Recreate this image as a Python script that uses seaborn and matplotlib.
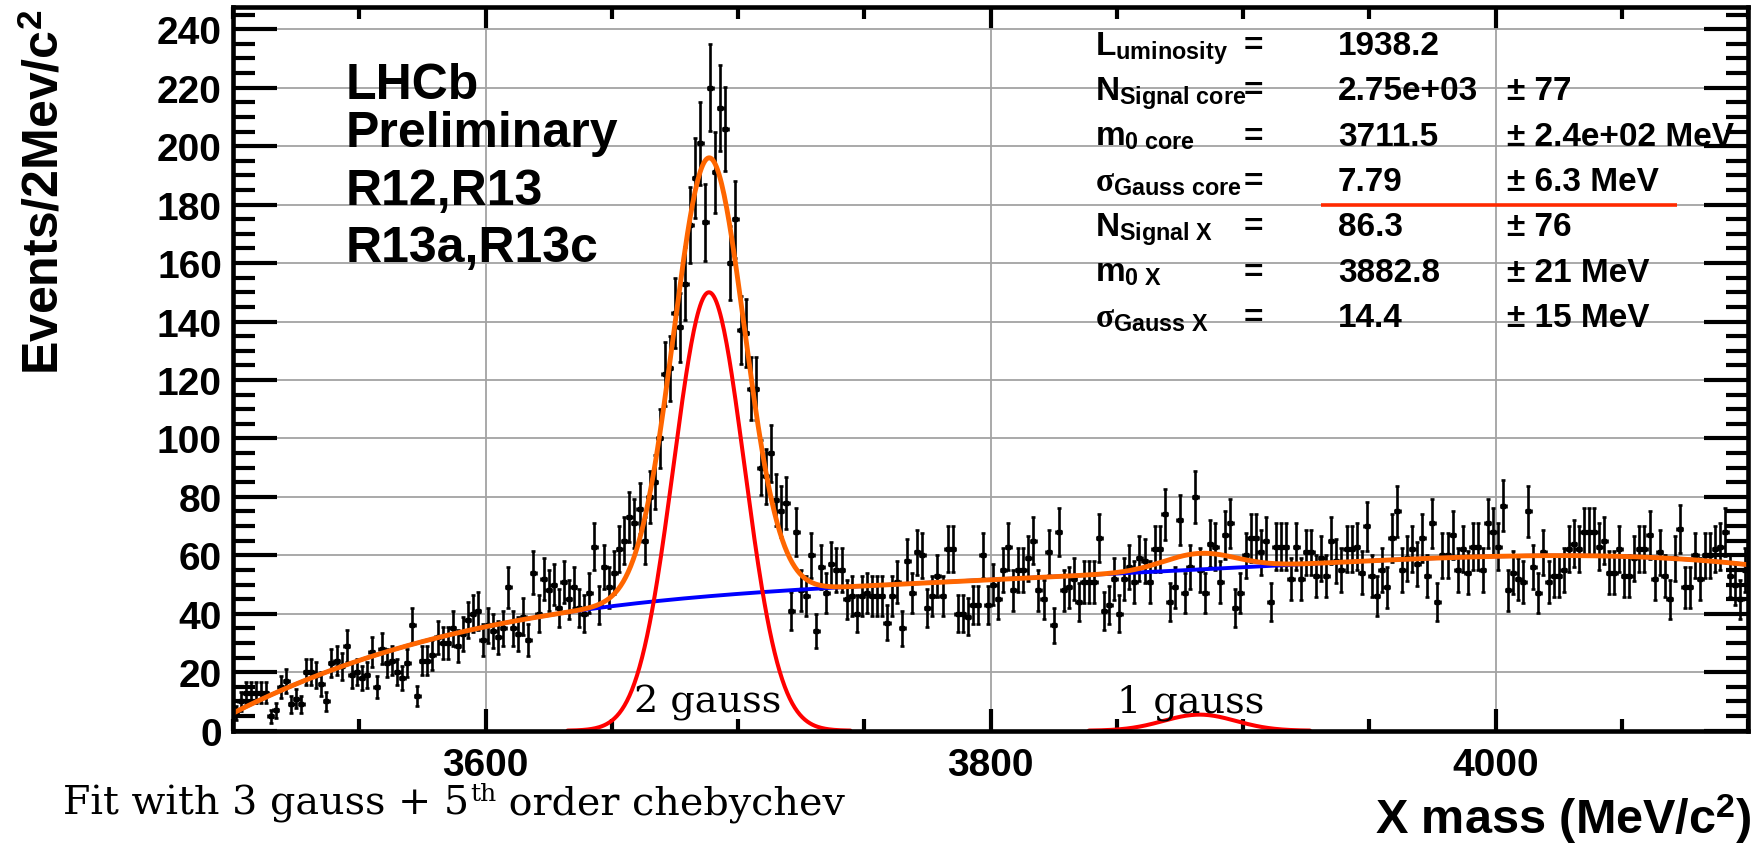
import numpy as np
import pandas as pd
import matplotlib
matplotlib.use("Agg")
import matplotlib.pyplot as plt
import seaborn as sns
from matplotlib.ticker import MultipleLocator
from numpy.polynomial import Chebyshev

W, H = 1765, 845

# histogram, 2 MeV bins from 3500 to 4100 MeV (bin centres)
mass = np.arange(3501, 4100, 2)
events = np.array([
    # 3501 - 3591
    6, 10, 13, 13, 13, 13, 13, 5, 7, 15, 17, 9, 11, 9, 20, 20, 19, 16, 10, 23,
    24, 22, 29, 19, 20, 18, 19, 27, 15, 28, 23, 24, 20, 18, 23, 36, 12, 24, 24, 26,
    32, 30, 30, 35, 29, 33,
    # 3593 - 3669
    38, 40, 41, 31, 36, 34, 32, 35, 49, 35, 33, 39, 31, 54, 40, 52, 48, 50, 42, 51,
    45, 49, 42, 40, 47, 63, 43, 56, 49, 54, 62, 65, 73, 71, 76, 65, 80, 85, 100,
    # 3671 - 3727
    122, 124, 143, 138, 153, 173, 189, 201, 174, 220, 191, 213, 206, 160, 175, 137,
    136, 117, 117, 90, 87, 95, 79, 75, 78, 41, 68, 48, 46,
    # 3729 - 3821
    60, 34, 56, 47, 57, 55, 55, 45, 46, 40, 46, 47, 46, 46, 46, 37, 46, 51, 35, 58,
    47, 61, 60, 42, 46, 53, 46, 62, 62, 40, 40, 39, 43, 43, 60, 43, 50, 45, 55, 63,
    48, 55, 55, 59, 65, 48, 45,
    # 3823 - 3913
    61, 36, 68, 48, 49, 52, 44, 51, 51, 51, 66, 41, 43, 52, 40, 52, 56, 51, 59, 58,
    51, 62, 62, 74, 44, 49, 72, 47, 56, 80, 55, 47, 64, 63, 51, 67, 71, 42, 47, 60,
    66, 66, 61, 65, 44, 63,
    # 3915 - 4007
    63, 63, 52, 63, 52, 61, 61, 53, 59, 53, 65, 58, 55, 62, 62, 63, 54, 70, 53, 46,
    55, 49, 66, 75, 55, 59, 62, 57, 66, 53, 71, 44, 60, 60, 67, 55, 62, 54, 63, 63,
    55, 71, 68, 63, 77, 48, 54,
    # 4009 - 4099
    52, 51, 75, 56, 47, 61, 51, 53, 53, 55, 62, 64, 62, 68, 68, 68, 63, 65, 54, 54,
    62, 53, 53, 59, 62, 62, 67, 52, 61, 53, 45, 59, 69, 49, 49, 60, 52, 60, 60, 62,
    63, 68, 53, 50, 45, 55,
])

# background level
bg_mass = [3500, 3525, 3550, 3575, 3600, 3625, 3650, 3675, 3700, 3725, 3750, 3775, 3800,
           3825, 3850, 3875, 3900, 3925, 3950, 3975, 4000, 4025, 4050, 4075, 4100]
bg_level = [6, 16, 24, 30.5, 35.5, 39.5, 42.5, 45, 47, 48.5, 49.5, 50.5, 51.5,
            52.5, 53.6, 55, 56, 57, 58.3, 59.2, 59.6, 59.7, 59.5, 58.8, 56.8]

# gaussian peaks as drawn
core_mean, core_sigma, core_height = 3688.5, 14.0, 150.0
xpk_mean, xpk_sigma, xpk_height = 3882.8, 14.4, 5.5

# fit result box
par_names = [r"L$_{\mathbf{uminosity}}$", r"N$_{\mathbf{Signal\ core}}$", r"m$_{\mathbf{0\ core}}$",
             r"$\sigma_{\mathbf{Gauss\ core}}$", r"N$_{\mathbf{Signal\ X}}$", r"m$_{\mathbf{0\ X}}$",
             r"$\sigma_{\mathbf{Gauss\ X}}$"]
par_values = ["1938.2", "2.75e+03", "3711.5", "7.79", "86.3", "3882.8", "14.4"]
par_errors = ["", "± 77", "± 2.4e+02 MeV", "± 6.3 MeV", "± 76", "± 21 MeV", "± 15 MeV"]
lhcb_lines = ["LHCb", "Preliminary", "R12,R13", "R13a,R13c"]

# ---------- fit curves ----------
grid = np.linspace(3500, 4100, 1201)
background = Chebyshev.fit(bg_mass, bg_level, 5)(grid)
core = core_height * np.exp(-0.5 * ((grid - core_mean) / core_sigma) ** 2)
xpeak = xpk_height * np.exp(-0.5 * ((grid - xpk_mean) / xpk_sigma) ** 2)
curves = pd.DataFrame({"mass": grid, "background": background, "core": core,
                       "xpeak": xpeak, "total": background + core + xpeak})

# ---------- style ----------
sns.set_theme(style="white")
plt.rcParams["font.family"] = ["Liberation Sans", "DejaVu Sans"]
plt.rcParams["font.weight"] = "bold"
plt.rcParams["text.color"] = "black"
plt.rcParams["axes.labelcolor"] = "black"
plt.rcParams["xtick.color"] = "black"
plt.rcParams["ytick.color"] = "black"
plt.rcParams["mathtext.fontset"] = "custom"
plt.rcParams["mathtext.bf"] = "Liberation Sans:bold"
plt.rcParams["mathtext.rm"] = "Liberation Sans:bold"
plt.rcParams["mathtext.it"] = "Liberation Serif"

fig = plt.figure(figsize=(W / 100, H / 100), dpi=100)
ax = fig.add_axes([233 / W, 1 - 731.7 / H, (1748 - 233) / W, (731.7 - 8.3) / H])

ax.errorbar(mass, events, yerr=np.sqrt(events), xerr=1, fmt="s", ms=2.6, color="black",
            ecolor="black", elinewidth=1.9, capsize=1.7, capthick=1.9, zorder=3)

# the gaussians sit on the x axis away from their peaks; only draw where they lift off
core_part = curves[curves["core"] > 0.05]
xpeak_part = curves[curves["xpeak"] > 0.05]

sns.lineplot(data=curves, x="mass", y="background", ax=ax, color="#0000ff", lw=2.8,
             estimator=None, sort=False, zorder=4)
sns.lineplot(data=core_part, x="mass", y="core", ax=ax, color="#ff0000", lw=2.9,
             estimator=None, sort=False, zorder=5)
sns.lineplot(data=xpeak_part, x="mass", y="xpeak", ax=ax, color="#ff0000", lw=2.9,
             estimator=None, sort=False, zorder=5)
sns.lineplot(data=curves, x="mass", y="total", ax=ax, color="#ff6600", lw=3.5,
             estimator=None, sort=False, zorder=6)

ax.set_xlim(3500, 4100)
ax.set_ylim(0, 247.5)
ax.set_xticks([3600, 3800, 4000])
ax.xaxis.set_minor_locator(MultipleLocator(50))
ax.set_yticks(np.arange(0, 241, 20))
ax.yaxis.set_minor_locator(MultipleLocator(5))
ax.set_xlabel("")
ax.set_ylabel("")

ax.tick_params(axis="y", which="major", direction="in", length=32, width=3,
               left=True, right=True, labelsize=28, pad=8, color="black")
ax.tick_params(axis="y", which="minor", direction="in", length=16, width=3,
               left=True, right=True, color="black")
ax.tick_params(axis="x", which="major", direction="in", length=16, width=3,
               bottom=True, top=True, labelsize=28, pad=12, color="black")
ax.tick_params(axis="x", which="minor", direction="in", length=8.5, width=3,
               bottom=True, top=True, color="black")
for lbl in ax.get_xticklabels() + ax.get_yticklabels():
    lbl.set_fontweight("bold")
    lbl.set_color("black")

ax.grid(True, which="major", color="#a3a3a3", lw=1.3)
ax.set_axisbelow(True)
for sp in ax.spines.values():
    sp.set_linewidth(3.3)
    sp.set_color("black")
    sp.set_zorder(10)

# red underline under the core width row
ax.plot([3931, 4072], [180, 180], color="#ff2a00", lw=2.6, solid_capstyle="butt",
        zorder=8, clip_on=False)

# component labels
ax.text(3659, 6.7, "2 gauss", family="DejaVu Serif", weight="normal", size=27.5,
        va="baseline", zorder=9)
ax.text(3850, 6.7, "1 gauss", family="DejaVu Serif", weight="normal", size=27.5,
        va="baseline", zorder=9)


def put(x, y, s, **kw):
    return fig.text(x / W, 1 - y / H, s, **kw)


for i, line in enumerate(lhcb_lines):
    put(346, [99, 147, 205, 262][i], line, fontsize=36, va="baseline")

for i in range(len(par_names)):
    base = 55 + 45.3 * i
    put(1095, base, par_names[i], fontsize=24, va="baseline")
    put(1244, base, "=", fontsize=24, va="baseline")
    put(1338, base, par_values[i], fontsize=24, va="baseline")
    put(1507, base, par_errors[i], fontsize=24, va="baseline")

put(45, 10, r"Events/2Mev/c$^{\mathbf{2}}$", rotation=90, ha="center", va="top", fontsize=36)
put(1752, 834, r"X mass (MeV/c$^{\mathbf{2}}$)", ha="right", va="baseline", fontsize=35)

# footnote in serif, with a raised "th"
serif = dict(family="DejaVu Serif", weight="normal", va="baseline")
t1 = put(63, 815, "Fit with 3 gauss + 5", fontsize=28.5, **serif)
fig.canvas.draw()
x1 = t1.get_window_extent().x1
t2 = fig.text((x1 + 1) / W, 1 - (815 - 14) / H, "th", fontsize=18, **serif)
fig.canvas.draw()
x2 = t2.get_window_extent().x1
fig.text(x2 / W, 1 - 815 / H, " order chebychev", fontsize=28.5, **serif)

fig.savefig("out.png", dpi=100, facecolor="white")
